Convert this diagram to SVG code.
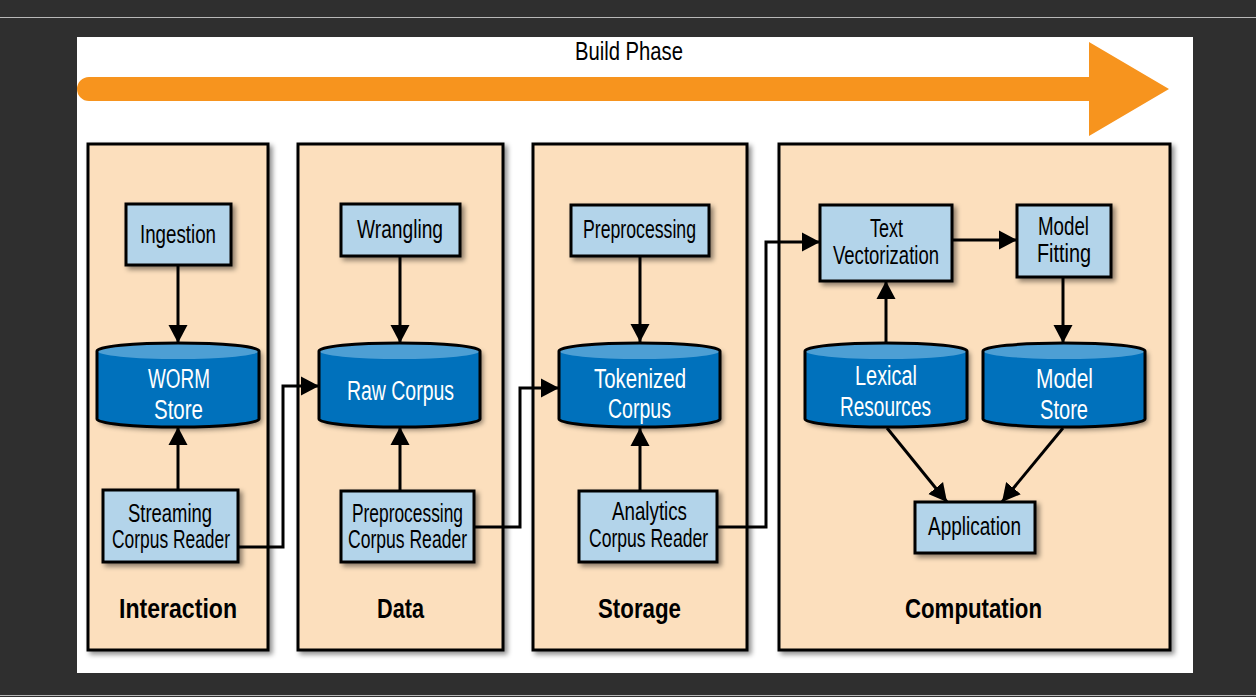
<svg xmlns="http://www.w3.org/2000/svg" width="1256" height="697" viewBox="0 0 1256 697">
<style>
.bg{fill:#2f2f2f}
.panel{fill:#fcdfbd;stroke:#000;stroke-width:3}
.box{fill:#b3d4ea;stroke:#000;stroke-width:3}
.cylb{fill:#0071bc}
.cylt{fill:#4d9fd4}
.cylo{fill:none;stroke:#000;stroke-width:3}
.t{font-family:"Liberation Sans Narrow","Liberation Sans",Arial,sans-serif;font-size:25px;fill:#000}
.tw{font-family:"Liberation Sans Narrow","Liberation Sans",Arial,sans-serif;font-size:27px;fill:#fff}
.tb{font-family:"Liberation Sans Narrow","Liberation Sans",Arial,sans-serif;font-size:28px;font-weight:bold;fill:#000}
.conn{fill:none;stroke:#000;stroke-width:3;marker-end:url(#ah)}
</style>
<defs>
<filter id="sh" x="-10%" y="-10%" width="130%" height="130%">
<feDropShadow dx="3" dy="3" stdDeviation="2.5" flood-color="#000" flood-opacity="0.45"/>
</filter>
<marker id="ah" markerUnits="userSpaceOnUse" markerWidth="20" markerHeight="20" refX="18" refY="10" orient="auto">
<path d="M0,0.5 L18,10 L0,19.5 z" fill="#000"/>
</marker>
</defs>
<rect class="bg" x="0" y="0" width="1256" height="697"/>
<line x1="0" y1="17.5" x2="1256" y2="17.5" stroke="#b8b8b8" stroke-width="1"/>
<line x1="0" y1="695.5" x2="1256" y2="695.5" stroke="#b8b8b8" stroke-width="1"/>
<rect x="77" y="37" width="1116" height="636" fill="#fff"/>

<g id="build-phase">
<path d="M89,77 H1089 V42 L1169,89 L1089,136 V101 H89 A12,12 0 0 1 89,77 Z" fill="#f7941e"/>
<text class="t" x="575" y="60" textLength="108" lengthAdjust="spacingAndGlyphs">Build Phase</text>
</g>

<g id="panel-interaction">
<rect class="panel" x="88" y="144" width="180" height="506" filter="url(#sh)"/>
<text class="tb" x="119" y="618" textLength="118" lengthAdjust="spacingAndGlyphs">Interaction</text>
</g>
<g id="panel-data">
<rect class="panel" x="298" y="144" width="205" height="506" filter="url(#sh)"/>
<text class="tb" x="377" y="618" textLength="47" lengthAdjust="spacingAndGlyphs">Data</text>
</g>
<g id="panel-storage">
<rect class="panel" x="533" y="144" width="214" height="506" filter="url(#sh)"/>
<text class="tb" x="598" y="618" textLength="83" lengthAdjust="spacingAndGlyphs">Storage</text>
</g>
<g id="panel-computation">
<rect class="panel" x="779" y="144" width="391" height="506" filter="url(#sh)"/>
<text class="tb" x="905" y="618" textLength="137" lengthAdjust="spacingAndGlyphs">Computation</text>
</g>

<g id="connectors">
<path class="conn" d="M178,265 V343"/>
<path class="conn" d="M178,490 V427"/>
<path class="conn" d="M400,256 V343"/>
<path class="conn" d="M400,491 V427"/>
<path class="conn" d="M640,256 V342"/>
<path class="conn" d="M640,491 V428"/>
<path class="conn" d="M238,547 H283 V386 H319"/>
<path class="conn" d="M474,527 H520 V388 H559"/>
<path class="conn" d="M717,527 H766 V242 H820"/>
<path class="conn" d="M952,240 H1017"/>
<path class="conn" d="M886,343 V281"/>
<path class="conn" d="M1063,277 V343"/>
<path class="conn" d="M887,428 L947,502"/>
<path class="conn" d="M1063,428 L1002,502"/>
</g>

<g id="ingestion">
<rect class="box" x="126" y="204" width="105" height="61" filter="url(#sh)"/>
<text class="t" x="140" y="243" textLength="76" lengthAdjust="spacingAndGlyphs">Ingestion</text>
</g>
<g id="wrangling">
<rect class="box" x="341" y="204" width="119" height="52" filter="url(#sh)"/>
<text class="t" x="357" y="238" textLength="86" lengthAdjust="spacingAndGlyphs">Wrangling</text>
</g>
<g id="preprocessing">
<rect class="box" x="571" y="205" width="138" height="51" filter="url(#sh)"/>
<text class="t" x="583" y="238" textLength="113" lengthAdjust="spacingAndGlyphs">Preprocessing</text>
</g>
<g id="streaming-corpus-reader">
<rect class="box" x="103" y="490" width="135" height="72" filter="url(#sh)"/>
<text class="t" x="128" y="522" textLength="84" lengthAdjust="spacingAndGlyphs">Streaming</text>
<text class="t" x="112" y="548" textLength="118" lengthAdjust="spacingAndGlyphs">Corpus Reader</text>
</g>
<g id="preprocessing-corpus-reader">
<rect class="box" x="341" y="491" width="133" height="71" filter="url(#sh)"/>
<text class="t" x="352" y="522" textLength="111" lengthAdjust="spacingAndGlyphs">Preprocessing</text>
<text class="t" x="348" y="548" textLength="119" lengthAdjust="spacingAndGlyphs">Corpus Reader</text>
</g>
<g id="analytics-corpus-reader">
<rect class="box" x="579" y="491" width="138" height="71" filter="url(#sh)"/>
<text class="t" x="612" y="520" textLength="75" lengthAdjust="spacingAndGlyphs">Analytics</text>
<text class="t" x="589" y="547" textLength="119" lengthAdjust="spacingAndGlyphs">Corpus Reader</text>
</g>
<g id="text-vectorization">
<rect class="box" x="820" y="205" width="132" height="76" filter="url(#sh)"/>
<text class="t" x="870" y="237" textLength="33" lengthAdjust="spacingAndGlyphs">Text</text>
<text class="t" x="833" y="264" textLength="106" lengthAdjust="spacingAndGlyphs">Vectorization</text>
</g>
<g id="model-fitting">
<rect class="box" x="1017" y="205" width="94" height="72" filter="url(#sh)"/>
<text class="t" x="1038" y="235" textLength="51" lengthAdjust="spacingAndGlyphs">Model</text>
<text class="t" x="1037" y="262" textLength="54" lengthAdjust="spacingAndGlyphs">Fitting</text>
</g>
<g id="application">
<rect class="box" x="915" y="502" width="120" height="51" filter="url(#sh)"/>
<text class="t" x="928" y="535" textLength="93" lengthAdjust="spacingAndGlyphs">Application</text>
</g>

<g id="worm-store">
<path class="cylb" d="M97,351 A81,8 0 0 1 259,351 V419 A81,8 0 0 1 97,419 Z" filter="url(#sh)"/>
<ellipse class="cylt" cx="178" cy="351" rx="81" ry="8"/>
<path class="cylo" d="M97,351 A81,8 0 0 1 259,351 V419 A81,8 0 0 1 97,419 Z"/>
<text class="tw" x="148" y="388" textLength="62" lengthAdjust="spacingAndGlyphs">WORM</text>
<text class="tw" x="154" y="419" textLength="49" lengthAdjust="spacingAndGlyphs">Store</text>
</g>
<g id="raw-corpus">
<path class="cylb" d="M319,351 A80.5,8 0 0 1 480,351 V419 A80.5,8 0 0 1 319,419 Z" filter="url(#sh)"/>
<ellipse class="cylt" cx="399.5" cy="351" rx="80.5" ry="8"/>
<path class="cylo" d="M319,351 A80.5,8 0 0 1 480,351 V419 A80.5,8 0 0 1 319,419 Z"/>
<text class="tw" x="347" y="400" textLength="107" lengthAdjust="spacingAndGlyphs">Raw Corpus</text>
</g>
<g id="tokenized-corpus">
<path class="cylb" d="M559,351 A80.5,8 0 0 1 720,351 V419 A80.5,8 0 0 1 559,419 Z" filter="url(#sh)"/>
<ellipse class="cylt" cx="639.5" cy="351" rx="80.5" ry="8"/>
<path class="cylo" d="M559,351 A80.5,8 0 0 1 720,351 V419 A80.5,8 0 0 1 559,419 Z"/>
<text class="tw" x="594" y="388" textLength="92" lengthAdjust="spacingAndGlyphs">Tokenized</text>
<text class="tw" x="608" y="418" textLength="63" lengthAdjust="spacingAndGlyphs">Corpus</text>
</g>
<g id="lexical-resources">
<path class="cylb" d="M805,351 A81,8 0 0 1 967,351 V419 A81,8 0 0 1 805,419 Z" filter="url(#sh)"/>
<ellipse class="cylt" cx="886" cy="351" rx="81" ry="8"/>
<path class="cylo" d="M805,351 A81,8 0 0 1 967,351 V419 A81,8 0 0 1 805,419 Z"/>
<text class="tw" x="855" y="385" textLength="62" lengthAdjust="spacingAndGlyphs">Lexical</text>
<text class="tw" x="840" y="416" textLength="91" lengthAdjust="spacingAndGlyphs">Resources</text>
</g>
<g id="model-store">
<path class="cylb" d="M983,351 A81,8 0 0 1 1145,351 V419 A81,8 0 0 1 983,419 Z" filter="url(#sh)"/>
<ellipse class="cylt" cx="1064" cy="351" rx="81" ry="8"/>
<path class="cylo" d="M983,351 A81,8 0 0 1 1145,351 V419 A81,8 0 0 1 983,419 Z"/>
<text class="tw" x="1036" y="388" textLength="57" lengthAdjust="spacingAndGlyphs">Model</text>
<text class="tw" x="1040" y="419" textLength="48" lengthAdjust="spacingAndGlyphs">Store</text>
</g>
</svg>
